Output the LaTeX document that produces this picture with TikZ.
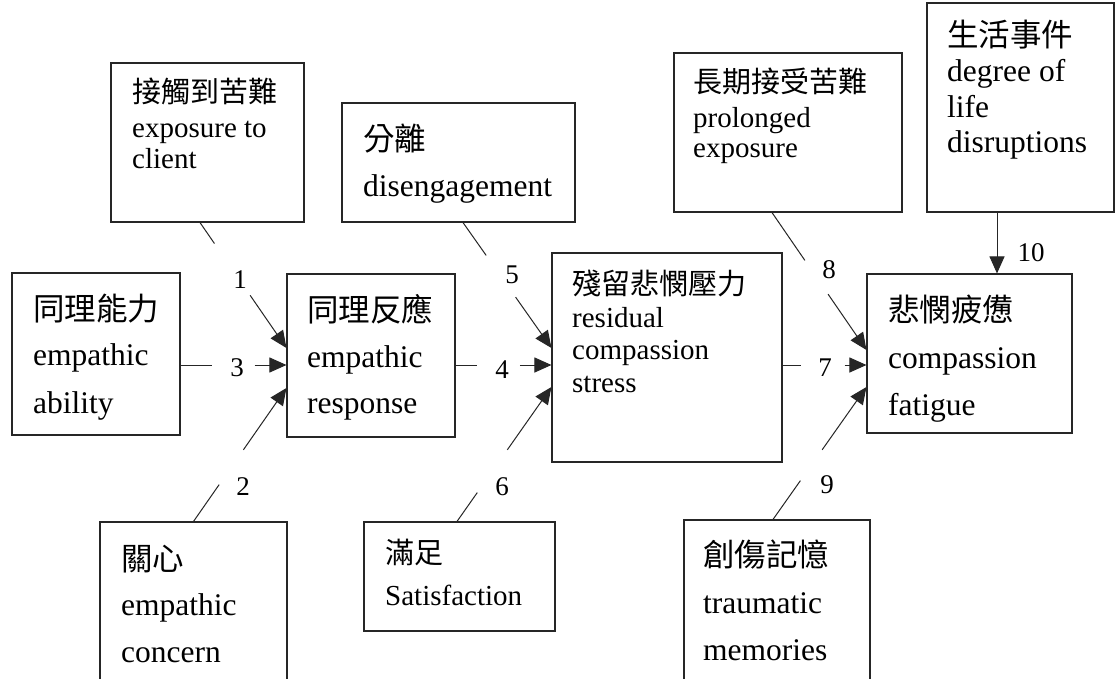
\documentclass[tikz,border=0pt]{standalone}
\usepackage{fontspec}
\setmainfont{Liberation Serif}
\newfontfamily\cjk{Noto Sans CJK TC}
\usetikzlibrary{arrows.meta,calc}
\newcommand\tlines[2]{\vtop{\baselineskip=#1\lineskiplimit=-\maxdimen\lineskip=0pt\halign{##\hfil\cr#2\crcr}}}
\newcommand\zh[2][0pt]{\raisebox{#1}{\cjk #2}}
\begin{document}
\begin{tikzpicture}[x=1pt,y=-1pt,
  box/.style={draw=black!85,line width=1.1pt,inner sep=0pt},
  txt/.style={anchor=base west,inner sep=0pt,font=\fontsize{29}{36}\selectfont},
  txtb/.style={anchor=base west,inner sep=0pt,font=\fontsize{31.5}{36}\selectfont},
  num/.style={inner sep=0pt,font=\fontsize{27}{27}\selectfont},
  ln/.style={line width=1pt,draw=black!85},
  arr/.style={ln,-{Triangle[length=17pt,width=15pt]}}]
\useasboundingbox (0,0) rectangle (1116,679);
\fill[white] (0,0) rectangle (1116,679);
% boxes
\node[box,minimum width=193pt,minimum height=159pt] (A) at (207.5,142.5) {};
\node[box,minimum width=233pt,minimum height=119pt] (B) at (458.5,162.5) {};
\node[box,minimum width=228pt,minimum height=159pt] (C) at (788,132.5) {};
\node[box,minimum width=187pt,minimum height=209pt] (D) at (1020.5,107.5) {};
\node[box,minimum width=168pt,minimum height=162pt] (E) at (96,354) {};
\node[box,minimum width=168pt,minimum height=163pt] (F) at (371,355.5) {};
\node[box,minimum width=230pt,minimum height=209pt] (G) at (667,357.5) {};
\node[box,minimum width=205pt,minimum height=159pt] (H) at (969.5,353.5) {};
\node[box,minimum width=187pt,minimum height=178pt] (I) at (193.5,611) {};
\node[box,minimum width=191pt,minimum height=109pt] (J) at (459.5,576.5) {};
\node[box,minimum width=186pt,minimum height=180pt] (K) at (777,610) {};
% texts
\node[txt] (tA) at (132,107) {\tlines{31pt}{\zh[4pt]{接觸到苦難}\cr exposure to\cr client}};
\node[txtb] (tB) at (363,151) {\tlines{46pt}{\zh{分離}\cr disengagement}};
\node[txt] (tC) at (693,98) {\tlines{30pt}{\zh[5pt]{長期接受苦難}\cr prolonged\cr exposure}};
\node[txtb] (tD) at (947,46.5) {\tlines{35.5pt}{\zh{生活事件}\cr degree of\cr life\cr disruptions}};
\node[txtb] (tE) at (33,317) {\tlines{48pt}{\zh[-3pt]{同理能力}\cr empathic\cr ability}};
\node[txtb] (tF) at (307,321) {\tlines{46pt}{\zh{同理反應}\cr empathic\cr response}};
\node[txt] (tG) at (572,294.5) {\tlines{32.5pt}{\zh{殘留悲憫壓力}\cr residual\cr compassion\cr stress}};
\node[txtb] (tH) at (888,321) {\tlines{47pt}{\zh{悲憫疲憊}\cr compassion\cr fatigue}};
\node[txtb] (tI) at (121,568) {\tlines{47pt}{\zh[-2pt]{關心}\cr empathic\cr concern}};
\node[txt] (tJ) at (385,563) {\tlines{42pt}{\zh{滿足}\cr Satisfaction}};
\node[txtb] (tK) at (703,566) {\tlines{47pt}{\zh{創傷記憶}\cr traumatic\cr memories}};
% connector end points
\coordinate (s1) at ([xshift=-7.5pt]A.south);
\coordinate (t1) at ([yshift=7.5pt]F.west);
\coordinate (s2) at (I.north);
\coordinate (t2) at ([yshift=-32.5pt]F.west);
\coordinate (s3) at ([yshift=-11pt]E.east);
\coordinate (t3) at ([yshift=-9.5pt]F.west);
\coordinate (s4) at ([yshift=-9.5pt]F.east);
\coordinate (t4) at ([yshift=-7.5pt]G.west);
\coordinate (s5) at ([xshift=4.5pt]B.south);
\coordinate (t5) at ([yshift=9.5pt]G.west);
\coordinate (s6) at ([xshift=-2.5pt]J.north);
\coordinate (t6) at ([yshift=-29.5pt]G.west);
\coordinate (s7) at ([yshift=-7.5pt]G.east);
\coordinate (t7) at ([yshift=-11.5pt]H.west);
\coordinate (s8) at ([xshift=-16pt]C.south);
\coordinate (t8) at ([yshift=3.5pt]H.west);
\coordinate (s9) at ([xshift=-4pt]K.north);
\coordinate (t9) at ([yshift=-33.5pt]H.west);
\coordinate (s10) at ([xshift=-23.5pt]D.south);
\coordinate (t10) at ([xshift=27.5pt]H.north);
% connectors
\draw[ln] (s1) -- ($(s1)!0.167!(t1)$);  \draw[arr] ($(s1)!0.58!(t1)$) -- (t1);
\draw[ln] (s2) -- ($(s2)!0.276!(t2)$);  \draw[arr] ($(s2)!0.537!(t2)$) -- (t2);
\draw[ln] (s3) -- ($(s3)!0.30!(t3)$);   \draw[arr] ($(s3)!0.70!(t3)$) -- (t3);
\draw[ln] (s4) -- ($(s4)!0.227!(t4)$);  \draw[arr] ($(s4)!0.67!(t4)$) -- (t4);
\draw[ln] (s5) -- ($(s5)!0.262!(t5)$);  \draw[arr] ($(s5)!0.595!(t5)$) -- (t5);
\draw[ln] (s6) -- ($(s6)!0.215!(t6)$);  \draw[arr] ($(s6)!0.533!(t6)$) -- (t6);
\draw[ln] (s7) -- ($(s7)!0.224!(t7)$);  \draw[arr] ($(s7)!0.74!(t7)$) -- (t7);
\draw[ln] (s8) -- ($(s8)!0.348!(t8)$);  \draw[arr] ($(s8)!0.594!(t8)$) -- (t8);
\draw[ln] (s9) -- ($(s9)!0.293!(t9)$);  \draw[arr] ($(s9)!0.526!(t9)$) -- (t9);
\draw[arr] (s10) -- (t10);
% labels
\node[num] (n1) at (240,280) {1};
\node[num] (n2) at (243,487) {2};
\node[num] (n3) at (237,368) {3};
\node[num] (n4) at (502,370) {4};
\node[num] (n5) at (512,275) {5};
\node[num] (n6) at (502,487) {6};
\node[num] (n7) at (825,368) {7};
\node[num] (n8) at (829,270) {8};
\node[num] (n9) at (827,485) {9};
\node[num] (n10) at (1031,253) {10};
\end{tikzpicture}
\end{document}
